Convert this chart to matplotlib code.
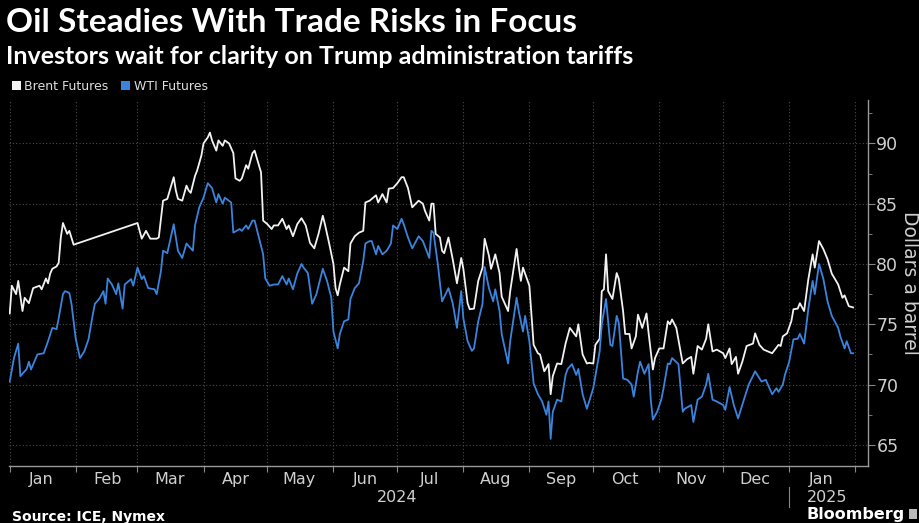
import numpy as np
import pandas as pd
import matplotlib
matplotlib.use("Agg")
import matplotlib.pyplot as plt
import matplotlib.dates as mdates
import matplotlib.transforms as mtransforms
from matplotlib.patches import Patch, Rectangle
from matplotlib.ticker import MultipleLocator, NullFormatter

# days since 2024-01-01, values in $/bbl
brent_days = [0, 1, 3, 4, 6, 7, 9, 11, 14, 15, 17, 18, 19, 20, 22, 23, 24, 25, 27, 28, 30,
              60, 62, 64, 66, 69, 70, 72, 74, 77, 78, 79, 81, 83, 84, 85, 87, 88,
              90, 91, 93, 94, 95, 97, 98, 100, 101, 103, 105, 106, 108, 109, 111, 112, 114, 115, 117, 118,
              119, 121, 123, 124, 126, 128, 130, 131, 133, 135, 137, 139, 141, 143, 145, 147, 148, 150,
              152, 153, 154, 155, 157, 159, 160, 162, 164, 166, 167, 169, 170, 172, 173, 175, 177, 178, 180,
              182, 184, 185, 187, 189, 192, 194, 195, 197, 198, 199, 200, 202, 203, 204, 206, 208, 210, 212,
              213, 215, 216, 218, 220, 222, 223, 225, 226, 228, 230, 231, 234, 235, 238, 239, 240, 241,
              244, 246, 248, 249, 251, 253, 254, 255, 257, 259, 261, 263, 266, 267, 269, 271, 272,
              274, 275, 277, 278, 279, 280, 281, 283, 285, 286, 288, 289, 291, 292, 294, 295, 297, 299, 300, 302, 303,
              305, 307, 309, 310, 311, 313, 315, 316, 318, 320, 321, 323, 325, 327, 328, 330, 332,
              335, 336, 338, 339, 341, 342, 344, 346, 349, 350, 352, 354, 356, 358, 361, 362, 363, 365,
              367, 368, 370, 371, 373, 375, 377, 378, 380, 382, 384, 386, 388, 389, 391, 392, 394, 396]
brent_usd = [75.9, 78.2, 77.5, 78.6, 76.1, 77.2, 76.75, 78.0, 78.2, 77.9, 78.8, 78.4, 79.2, 79.6, 79.8, 80.1, 82.2, 83.4, 82.5, 82.75, 81.6,
             83.4, 82.1, 82.75, 82.1, 82.1, 82.2, 85.25, 85.4, 87.2, 86.1, 85.4, 85.25, 86.5, 86.1, 85.9, 87.3, 87.75,
             89.0, 90.0, 90.5, 90.9, 90.25, 89.4, 90.25, 89.8, 90.25, 90.0, 89.2, 87.1, 86.9, 87.1, 88.2, 87.9, 89.2, 89.4, 88.2, 87.6,
             83.6, 83.3, 82.9, 83.2, 83.2, 83.75, 82.9, 83.2, 82.3, 83.3, 83.8, 83.2, 81.75, 81.3, 82.5, 84.0, 83.3, 81.7,
             80.0, 78.0, 77.4, 78.3, 79.7, 79.4, 81.7, 82.3, 82.6, 82.75, 85.1, 85.25, 85.4, 85.7, 85.1, 85.8, 85.1, 86.25, 86.3,
             86.7, 87.2, 87.2, 86.3, 84.7, 85.25, 85.0, 84.4, 83.6, 85.0, 85.0, 82.5, 82.2, 81.1, 80.9, 82.2, 80.4, 78.4, 80.5,
             79.6, 76.75, 76.25, 76.3, 78.6, 79.7, 82.1, 80.7, 79.6, 80.8, 79.25, 77.3, 76.1, 77.75, 81.25, 79.8, 78.6, 79.7,
             78.2, 73.3, 72.6, 72.5, 71.1, 71.7, 69.2, 70.7, 71.75, 71.7, 73.4, 74.7, 74.0, 75.0, 72.5, 71.75, 71.8,
             71.75, 73.3, 73.8, 77.75, 77.9, 80.8, 77.75, 77.1, 79.25, 78.75, 76.1, 74.2, 74.2, 73.0, 74.0, 75.8, 74.7, 75.9, 74.25, 71.25, 72.2,
             73.0, 73.0, 75.25, 75.0, 75.4, 74.7, 72.75, 71.75, 72.1, 72.3, 70.9, 73.2, 72.9, 73.8, 75.0, 72.75, 72.9,
             72.6, 72.2, 73.0, 71.7, 72.3, 70.9, 71.9, 73.2, 73.4, 74.25, 73.3, 72.9, 72.75, 72.6, 73.3, 73.2, 74.0, 74.25,
             75.25, 76.25, 76.3, 76.75, 76.1, 78.75, 80.8, 79.7, 81.9, 81.25, 80.4, 79.2, 78.6, 78.3, 77.2, 77.4, 76.5, 76.4]

wti_days = [0, 2, 4, 5, 8, 9, 10, 13, 16, 18, 20, 22, 23, 25, 26, 28, 29,
            31, 33, 35, 37, 39, 40, 42, 44, 45, 46, 48, 50, 51, 53, 54, 57, 58,
            60, 62, 63, 65, 68, 69, 71, 72, 74, 76, 77, 78, 79, 81, 83, 84, 86, 87, 89,
            91, 93, 95, 97, 98, 100, 101, 104, 105, 108, 109, 111, 112, 114, 115, 117, 119,
            120, 122, 124, 126, 128, 130, 131, 133, 135, 137, 138, 140, 142, 144, 147, 149, 151,
            152, 154, 155, 157, 159, 160, 162, 164, 166, 167, 169, 170, 172, 173, 175, 177, 179, 180,
            182, 184, 185, 187, 189, 192, 194, 197, 198, 199, 201, 203, 206, 208, 210, 212,
            213, 215, 217, 218, 220, 222, 223, 225, 227, 228, 230, 231, 234, 235, 238, 239, 241, 242,
            244, 246, 248, 250, 252, 253, 254, 255, 257, 259, 261, 262, 264, 266, 267, 269, 271,
            274, 276, 277, 278, 280, 282, 283, 285, 286, 288, 290, 292, 293, 295, 296, 298, 300, 301, 302, 304,
            306, 307, 309, 310, 311, 314, 316, 317, 320, 321, 323, 325, 327, 328, 330, 332,
            335, 336, 338, 340, 342, 345, 347, 350, 353, 355, 358, 360, 361, 363, 364,
            366, 368, 370, 371, 373, 375, 377, 378, 380, 382, 384, 386, 389, 390, 392, 393, 395, 396]
wti_usd = [70.25, 72.2, 73.4, 70.7, 71.3, 71.9, 71.25, 72.5, 72.6, 73.6, 74.7, 74.6, 75.5, 77.5, 77.75, 77.6, 76.7,
           73.8, 72.2, 72.75, 73.75, 75.8, 76.7, 77.1, 77.75, 76.7, 78.8, 78.3, 77.5, 78.4, 76.3, 78.3, 78.75, 78.2,
           79.7, 78.75, 79.0, 78.0, 77.9, 77.5, 79.4, 81.1, 80.9, 82.5, 83.3, 82.2, 81.1, 80.5, 81.7, 81.5, 81.1, 83.2, 84.7,
           85.5, 86.7, 86.3, 85.1, 85.8, 85.0, 85.5, 85.1, 82.6, 82.9, 82.75, 83.2, 82.9, 83.6, 83.6, 82.2, 80.8,
           78.8, 78.2, 78.3, 78.3, 79.0, 78.3, 78.8, 77.9, 79.2, 80.0, 79.7, 79.25, 76.7, 77.5, 79.6, 78.6, 77.2,
           74.4, 73.0, 74.2, 75.25, 75.4, 77.1, 78.0, 78.4, 80.25, 81.7, 81.9, 81.9, 80.8, 81.5, 80.8, 81.1, 81.7, 83.2,
           82.9, 83.75, 83.3, 82.2, 81.3, 82.3, 81.9, 80.5, 82.75, 82.6, 80.0, 76.9, 78.0, 76.75, 74.7, 77.75,
           75.5, 73.6, 72.8, 73.0, 75.25, 76.7, 79.75, 78.0, 76.9, 77.9, 76.1, 74.2, 71.75, 73.6, 77.2, 76.1, 74.4, 75.7,
           73.6, 70.1, 69.2, 68.6, 67.5, 68.6, 65.5, 67.75, 68.75, 68.6, 70.8, 71.3, 71.7, 70.8, 71.3, 69.2, 68.0,
           69.7, 71.7, 72.75, 75.0, 77.1, 73.3, 73.2, 75.7, 75.1, 70.5, 70.4, 70.0, 69.0, 71.1, 71.9, 70.9, 71.7, 68.75, 67.1, 67.75,
           68.8, 69.7, 71.75, 71.7, 72.2, 71.7, 67.75, 68.0, 68.3, 66.9, 68.75, 69.0, 70.0, 70.9, 68.75, 68.6,
           68.3, 67.9, 69.8, 68.3, 67.2, 68.9, 70.0, 71.1, 70.25, 70.4, 69.2, 69.7, 69.4, 70.0, 70.8,
           71.9, 73.75, 73.8, 74.2, 73.4, 76.3, 78.6, 77.5, 80.0, 78.8, 76.9, 75.7, 74.7, 74.0, 73.0, 73.6, 72.6, 72.6]

W, H = 919, 523
start = pd.Timestamp("2024-01-01")
brent_x = start + pd.to_timedelta(brent_days, unit="D")
wti_x = start + pd.to_timedelta(wti_days, unit="D")

white = "#f2f2f2"
blue = "#3a84de"
grey = "#cfcfcf"

fig = plt.figure(figsize=(W / 100, H / 100), dpi=100, facecolor="black")
ax = fig.add_axes([9 / W, 1 - 466 / H, (868 - 9) / W, (466 - 100) / H], facecolor="black")

ax.plot(brent_x, brent_usd, color=white, lw=1.3)
ax.plot(wti_x, wti_usd, color=blue, lw=1.3)

ax.set_xlim(start - pd.Timedelta(hours=8), start + pd.Timedelta(days=403))
ax.set_ylim(63.25, 93.6)

# x axis: ticks at month starts, labels mid-month
ax.xaxis.set_major_locator(mdates.MonthLocator())
ax.xaxis.set_major_formatter(NullFormatter())
ax.xaxis.set_minor_locator(mdates.MonthLocator(bymonthday=16))
ax.xaxis.set_minor_formatter(mdates.DateFormatter("%b"))
ax.tick_params(axis="x", which="major", length=4, color="#888888", width=0.8)
ax.tick_params(axis="x", which="minor", length=0, labelsize=11.5, labelcolor=grey, pad=4)

# y axis on the right
ax.yaxis.tick_right()
ax.yaxis.set_major_locator(MultipleLocator(5))
ax.yaxis.set_minor_locator(MultipleLocator(2.5))
ax.tick_params(axis="y", which="major", length=5, color="#888888", labelsize=12.5, labelcolor=grey, pad=1)
ax.tick_params(axis="y", which="minor", length=3, color="#888888")

ax.grid(True, which="major", color="#4a4a4a", linestyle=(0, (1, 2)), lw=0.8)
for s in ["left", "top"]:
    ax.spines[s].set_visible(False)
for s in ["right", "bottom"]:
    ax.spines[s].set_color("#999999")
    ax.spines[s].set_linewidth(1.0)

# year labels and separator
trans = mtransforms.blended_transform_factory(ax.transData, ax.transAxes)
ax.text(pd.Timestamp("2024-07-01"), -0.085, "2024", transform=trans, ha="center", va="center",
        fontsize=11.5, color=grey)
ax.text(pd.Timestamp("2025-01-19"), -0.085, "2025", transform=trans, ha="center", va="center",
        fontsize=11.5, color=grey)
sep = pd.Timestamp("2025-01-01")
ax.plot([sep, sep], [-0.057, -0.112], transform=trans, clip_on=False, color="#888888", lw=0.8)

fig.text(909 / W, 1 - 283 / H, "Dollars a barrel", rotation=270, ha="center", va="center",
         fontsize=13.5, color=grey)

# titles
fig.text(6 / W, 1 - 22 / H, "Oil Steadies With Trade Risks in Focus", ha="left", va="center",
         fontsize=24, fontweight="bold", color="white", family="Lato")
fig.text(6 / W, 1 - 56 / H, "Investors wait for clarity on Trump administration tariffs", ha="left",
         va="center", fontsize=18, fontweight="bold", color="white", family="Lato")

fig.legend(handles=[Patch(facecolor=white, label="Brent Futures"), Patch(facecolor=blue, label="WTI Futures")],
           loc="upper left", bbox_to_anchor=(12 / W, 1 - 80 / H), ncol=2, frameon=False,
           handlelength=0.7, handleheight=0.7, handletextpad=0.3, columnspacing=1.0,
           fontsize=9, labelcolor="#dddddd", borderaxespad=0, borderpad=0)

fig.text(12 / W, 1 - 517 / H, "Source: ICE, Nymex", ha="left", va="center", fontsize=10,
         fontweight="bold", color="white")
fig.text(905 / W, 1 - 514 / H, "Bloomberg", ha="right", va="center", fontsize=11.5,
         fontweight="bold", color="white")
fig.patches.append(Rectangle((909 / W, 1 - 519 / H), 8 / W, 10 / H, transform=fig.transFigure,
                             facecolor="#bbbbbb", edgecolor="none"))

fig.savefig("out.png", dpi=100, facecolor="black")
